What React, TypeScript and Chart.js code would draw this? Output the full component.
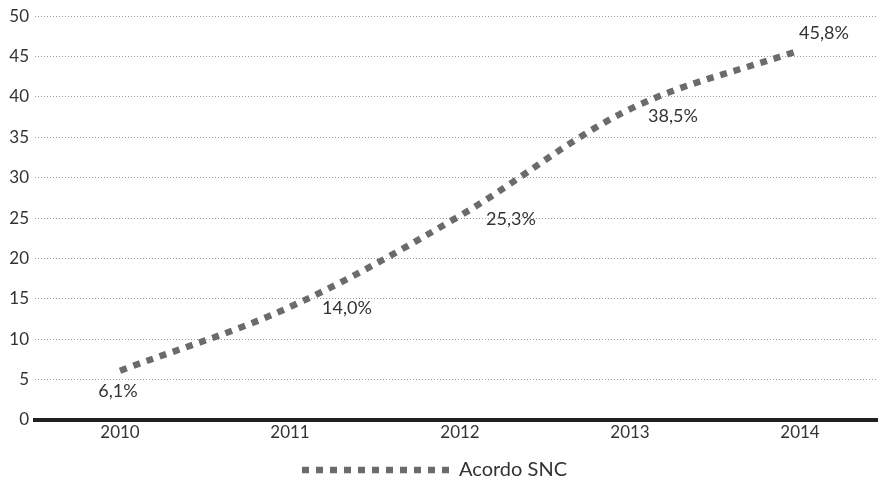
import React, { useEffect, useRef } from "react";
import { Chart, registerables } from "chart.js";

Chart.register(...registerables);

const years = ["2010", "2011", "2012", "2013", "2014"];
const acordoSNC = [6.1, 14.0, 25.3, 38.5, 45.8];
const seriesName = "Acordo SNC";
const yMin = 0;
const yMax = 50;
const yStep = 5;

const FONT = "Lato, 'Open Sans', sans-serif";
const LINE_COLOR = "#6b6b6b";
const TEXT_COLOR = "#333333";
const DASH = [7, 7];

// label placement relative to each point (style, not data)
const labelOffsets: [number, number][] = [
  [-2, 20],
  [57, 1],
  [51, 4],
  [43, 7],
  [24, -17],
];

const fmt = (v: number) => v.toFixed(1).replace(".", ",") + "%";

const dataLabelPlugin = {
  id: "dataLabels",
  afterDatasetsDraw(chart: any) {
    const ctx = chart.ctx;
    const meta = chart.getDatasetMeta(0);
    const values = chart.data.datasets[0].data as number[];
    ctx.save();
    ctx.font = `18px ${FONT}`;
    ctx.fillStyle = TEXT_COLOR;
    ctx.textAlign = "center";
    ctx.textBaseline = "middle";
    meta.data.forEach((pt: any, i: number) => {
      const [dx, dy] = labelOffsets[i] || [0, 0];
      ctx.fillText(fmt(values[i]), pt.x + dx, pt.y + dy);
    });
    ctx.restore();
  },
};

const legendShiftPlugin = {
  id: "legendShift",
  afterLayout(chart: any) {
    const lg = chart.legend;
    if (lg) {
      lg.left -= 8;
      lg.right -= 8;
      lg.top += 7;
      lg.bottom += 7;
    }
  },
};

export default function App() {
  const canvasRef = useRef<HTMLCanvasElement>(null);

  useEffect(() => {
    if (!canvasRef.current) return;
    const chart = new Chart(canvasRef.current, {
      type: "line",
      data: {
        labels: years,
        datasets: [
          {
            label: seriesName,
            data: acordoSNC,
            borderColor: LINE_COLOR,
            backgroundColor: LINE_COLOR,
            borderWidth: 6.5,
            borderDash: DASH,
            borderCapStyle: "butt",
            tension: 0.35,
            pointRadius: 0,
            pointHoverRadius: 0,
            fill: false,
          },
        ],
      },
      options: {
        animation: false,
        responsive: false,
        maintainAspectRatio: false,
        layout: { padding: { top: 14, left: 0, right: 1, bottom: 0 } },
        plugins: {
          tooltip: { enabled: false },
          legend: {
            display: true,
            position: "bottom",
            labels: {
              usePointStyle: true,
              pointStyle: "line",
              pointStyleWidth: 147,
              boxHeight: 20,
              padding: 2,
              color: TEXT_COLOR,
              font: { family: FONT, size: 20, lineHeight: 1 },
              generateLabels(chart: any) {
                const items = Chart.defaults.plugins.legend.labels.generateLabels(chart);
                return items.map((it: any) => ({
                  ...it,
                  lineDash: DASH,
                  lineWidth: 6.5,
                  strokeStyle: LINE_COLOR,
                  lineCap: "butt",
                }));
              },
            },
          },
        },
        scales: {
          x: {
            offset: true,
            grid: { display: false, drawTicks: false, tickLength: 0 },
            border: { display: true, color: "#231f20", width: 4 },
            ticks: {
              color: TEXT_COLOR,
              font: { family: FONT, size: 17 },
              padding: 2,
              maxRotation: 0,
            },
            afterFit(scale: any) {
              scale.height = 31;
            },
          },
          y: {
            min: yMin,
            max: yMax,
            grid: {
              drawTicks: false,
              tickLength: 0,
              lineWidth: 1,
              color: (c: any) => (c.tick && c.tick.value === 0 ? "rgba(0,0,0,0)" : "#9a9a9a"),
            },
            border: { display: false, dash: [1, 2] },
            ticks: {
              stepSize: yStep,
              color: TEXT_COLOR,
              font: { family: FONT, size: 17 },
              padding: 6,
            },
            afterFit(scale: any) {
              scale.width = 35;
            },
          },
        },
      },
      plugins: [dataLabelPlugin, legendShiftPlugin],
    });
    return () => chart.destroy();
  }, []);

  return (
    <div
      style={{
        position: "fixed",
        left: 0,
        top: 0,
        width: 878,
        height: 483,
        overflow: "hidden",
        background: "#ffffff",
      }}
    >
      <div style={{ width: 886, height: 483 }}>
        <canvas ref={canvasRef} width={886} height={483} style={{ display: "block" }} />
      </div>
    </div>
  );
}
